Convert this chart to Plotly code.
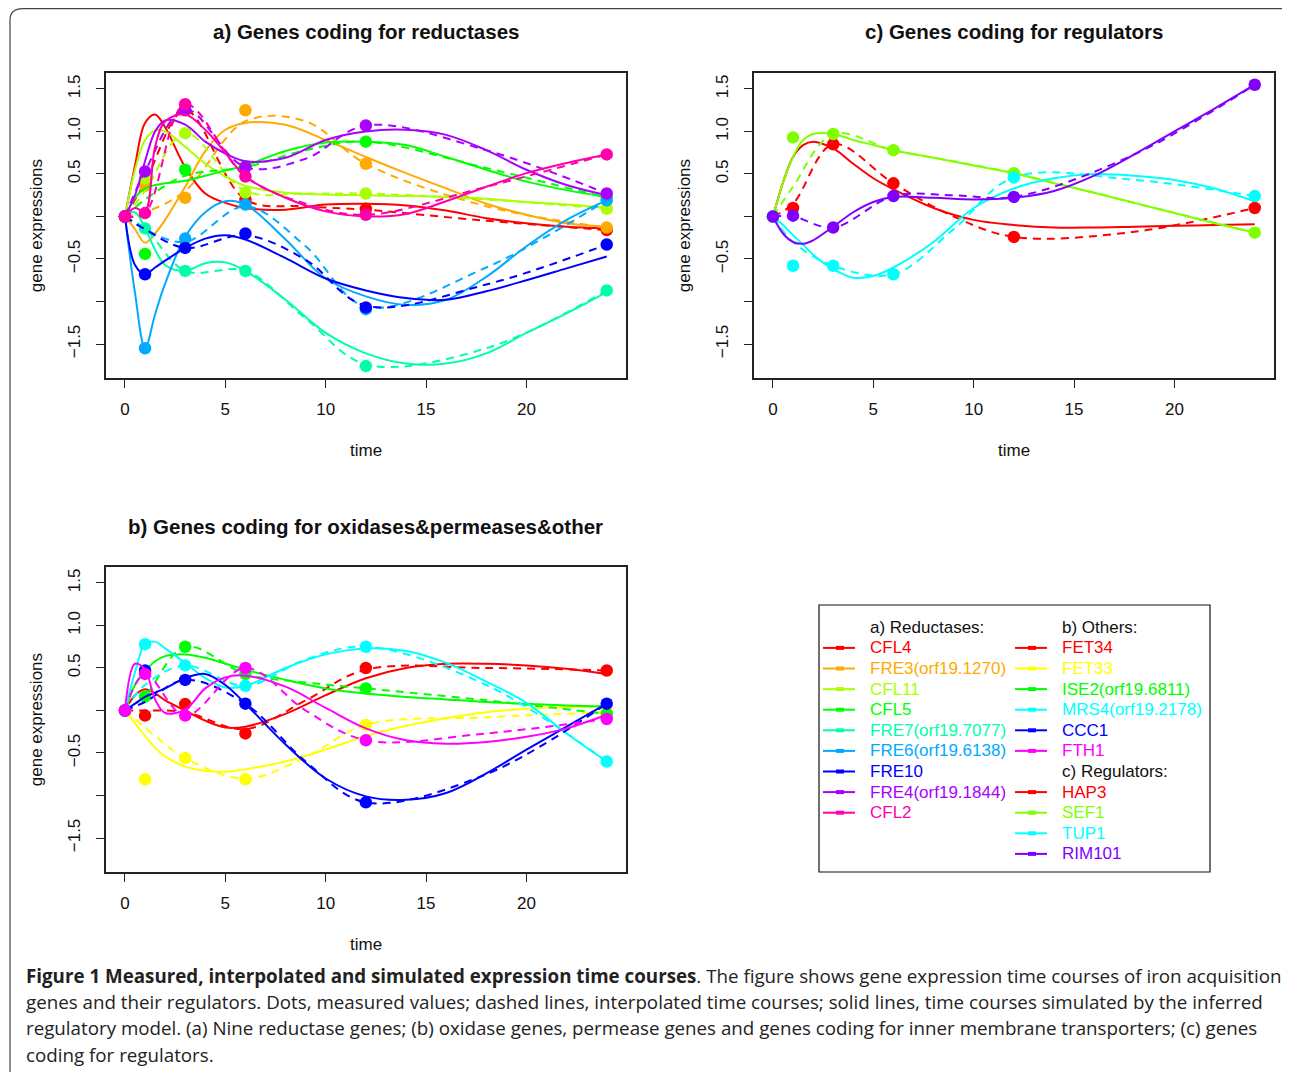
import plotly.graph_objects as go

# page has an 8px body margin; the figure is sized and shifted to compensate
OFF = 8
W, H = 1290 - OFF, 1072 - OFF

# ---------------- data ----------------
T_MEAS = [0, 1, 3, 6, 12, 24]
T_INT = [0, 1, 3, 6, 9, 12, 18, 24]
T_SIM = [0, 0.5, 1, 1.5, 2, 3, 4, 5, 6, 8, 10, 12, 14, 16, 18, 20, 22, 24]

X_TICKS = [0, 5, 10, 15, 20]
Y_TICKS = [-1.5, -1.0, -0.5, 0.0, 0.5, 1.0, 1.5]
Y_TICKTEXT = ["\u22121.5", "", "\u22120.5", "", "0.5", "1.0", "1.5"]

# a) reductases
A_GENES = ["CFL4", "FRE3(orf19.1270)", "CFL11", "CFL5", "FRE7(orf19.7077)",
           "FRE6(orf19.6138)", "FRE10", "FRE4(orf19.1844)", "CFL2"]
A_COLORS = ["#FF0000", "#FFAA00", "#AAFF00", "#00FF00", "#00FFAA",
            "#00AAFF", "#0000FF", "#AA00FF", "#FF00AA"]

CFL4_MEAS = [0, 0.40, 1.25, 0.20, 0.09, -0.16]
CFL4_INT = [0, 0.40, 1.25, 0.20, 0.12, 0.08, -0.05, -0.16]
CFL4_SIM = [0, 0.60, 1.10, 1.20, 1.05, 0.58, 0.27, 0.16, 0.10, 0.08, 0.14, 0.15, 0.13, 0.07, -0.02, -0.08, -0.12, -0.14]

FRE3_MEAS = [0, 0.36, 0.22, 1.25, 0.62, -0.13]
FRE3_INT = [0, 0.05, 0.30, 1.12, 1.12, 0.62, 0.12, -0.13]
FRE3_SIM = [0, -0.15, -0.31, -0.20, -0.04, 0.35, 0.77, 1.02, 1.10, 1.08, 0.90, 0.70, 0.51, 0.33, 0.15, 0.02, -0.08, -0.12]

CFL11_MEAS = [0, 0.45, 0.98, 0.28, 0.27, 0.09]
CFL11_INT = [0, 0.30, 0.98, 0.30, 0.27, 0.27, 0.20, 0.09]
CFL11_SIM = [0, 0.55, 0.90, 1.01, 1.00, 0.82, 0.62, 0.47, 0.36, 0.28, 0.26, 0.25, 0.24, 0.23, 0.21, 0.17, 0.14, 0.10]

CFL5_MEAS = [0, -0.44, 0.55, 0.59, 0.88, 0.22]
CFL5_INT = [0, 0.20, 0.48, 0.58, 0.78, 0.88, 0.57, 0.22]
CFL5_SIM = [0, 0.22, 0.33, 0.37, 0.39, 0.42, 0.48, 0.54, 0.60, 0.77, 0.87, 0.88, 0.84, 0.70, 0.55, 0.41, 0.31, 0.23]

FRE7_MEAS = [0, -0.14, -0.64, -0.64, -1.76, -0.87]
FRE7_INT = [0, -0.14, -0.64, -0.64, -1.20, -1.74, -1.55, -0.87]
FRE7_SIM = [0, 0.05, -0.14, -0.39, -0.57, -0.64, -0.55, -0.54, -0.64, -0.98, -1.37, -1.61, -1.73, -1.73, -1.61, -1.37, -1.14, -0.89]

FRE6_MEAS = [0, -1.55, -0.26, 0.14, -1.09, 0.19]
FRE6_INT = [0, -0.15, -0.30, 0.12, -0.35, -1.06, -0.60, 0.19]
FRE6_SIM = [0, -0.90, -1.55, -1.15, -0.79, -0.24, 0.05, 0.18, 0.14, -0.27, -0.73, -0.94, -1.04, -0.98, -0.71, -0.35, -0.04, 0.19]

FRE10_MEAS = [0, -0.68, -0.37, -0.20, -1.07, -0.33]
FRE10_INT = [0, -0.15, -0.37, -0.22, -0.51, -1.05, -0.80, -0.33]
FRE10_SIM = [0, -0.57, -0.68, -0.60, -0.52, -0.37, -0.26, -0.22, -0.27, -0.49, -0.73, -0.87, -0.96, -0.98, -0.88, -0.75, -0.61, -0.47]

FRE4_MEAS = [0, 0.53, 1.26, 0.58, 1.07, 0.27]
FRE4_INT = [0, 0.53, 1.26, 0.58, 0.68, 1.07, 0.78, 0.27]
FRE4_SIM = [0, 0.25, 0.65, 1.00, 1.13, 1.08, 0.88, 0.74, 0.65, 0.69, 0.90, 1.00, 1.02, 0.96, 0.78, 0.55, 0.37, 0.25]

CFL2_MEAS = [0, 0.04, 1.32, 0.47, 0.02, 0.73]
CFL2_INT = [0, 0.04, 1.32, 0.47, 0.15, 0.02, 0.35, 0.73]
CFL2_SIM = [0, 0.10, 0.06, 0.82, 1.12, 1.20, 1.02, 0.75, 0.47, 0.22, 0.06, 0.00, 0.03, 0.18, 0.35, 0.51, 0.63, 0.73]

# b) oxidases & permeases & other
B_GENES = ["FET34", "FET33", "ISE2(orf19.6811)", "MRS4(orf19.2178)", "CCC1", "FTH1"]
B_COLORS = ["#FF0000", "#FFFF00", "#00FF00", "#00FFFF", "#0000FF", "#FF00FF"]

FET34_MEAS = [0, -0.06, 0.075, -0.27, 0.50, 0.47]
FET34_INT = [0, 0.00, -0.02, -0.22, 0.12, 0.48, 0.50, 0.47]
FET34_SIM = [0, 0.18, 0.25, 0.20, 0.12, 0.00, -0.12, -0.20, -0.19, -0.04, 0.18, 0.38, 0.50, 0.55, 0.55, 0.53, 0.49, 0.43]

FET33_MEAS = [0, -0.81, -0.56, -0.81, -0.17, -0.02]
FET33_INT = [0, -0.20, -0.56, -0.80, -0.55, -0.17, -0.08, -0.02]
FET33_SIM = [0, -0.15, -0.30, -0.44, -0.54, -0.66, -0.71, -0.72, -0.69, -0.60, -0.46, -0.30, -0.18, -0.09, -0.02, 0.02, 0.04, 0.05]

ISE2_MEAS = [0, 0.165, 0.75, 0.43, 0.26, -0.04]
ISE2_INT = [0, 0.17, 0.75, 0.43, 0.33, 0.26, 0.12, -0.04]
ISE2_SIM = [0, 0.30, 0.46, 0.58, 0.64, 0.66, 0.62, 0.55, 0.48, 0.36, 0.26, 0.20, 0.16, 0.13, 0.10, 0.08, 0.06, 0.05]

MRS4_MEAS = [0, 0.78, 0.53, 0.29, 0.75, -0.60]
MRS4_INT = [0, 0.30, 0.53, 0.29, 0.60, 0.75, 0.30, -0.60]
MRS4_SIM = [0, 0.45, 0.78, 0.81, 0.73, 0.56, 0.38, 0.27, 0.29, 0.50, 0.66, 0.73, 0.70, 0.56, 0.34, 0.09, -0.27, -0.60]

CCC1_MEAS = [0, 0.47, 0.36, 0.08, -1.08, 0.08]
CCC1_INT = [0, 0.10, 0.36, 0.08, -0.60, -1.08, -0.75, 0.08]
CCC1_SIM = [0, 0.08, 0.16, 0.21, 0.26, 0.38, 0.43, 0.30, 0.08, -0.40, -0.80, -1.01, -1.05, -0.97, -0.74, -0.46, -0.19, 0.08]

FTH1_MEAS = [0, 0.43, -0.06, 0.50, -0.35, -0.10]
FTH1_INT = [0, 0.43, -0.06, 0.50, 0.00, -0.35, -0.27, -0.10]
FTH1_SIM = [0, 0.55, 0.48, 0.13, -0.03, 0.01, 0.26, 0.39, 0.41, 0.28, 0.03, -0.21, -0.35, -0.39, -0.37, -0.31, -0.21, -0.05]

# c) regulators
C_GENES = ["HAP3", "SEF1", "TUP1", "RIM101"]
C_COLORS = ["#FF0000", "#80FF00", "#00FFFF", "#8000FF"]

HAP3_MEAS = [0, 0.10, 0.85, 0.39, -0.24, 0.10]
HAP3_INT = [0, 0.15, 0.85, 0.39, 0.00, -0.24, -0.18, 0.10]
HAP3_SIM = [0, 0.40, 0.70, 0.84, 0.88, 0.80, 0.62, 0.45, 0.32, 0.10, -0.04, -0.10, -0.13, -0.13, -0.12, -0.11, -0.10, -0.09]

SEF1_MEAS = [0, 0.93, 0.97, 0.78, 0.51, -0.19]
SEF1_INT = [0, 0.35, 0.97, 0.78, 0.65, 0.51, 0.16, -0.19]
SEF1_SIM = [0, 0.40, 0.70, 0.90, 0.97, 0.97, 0.90, 0.84, 0.78, 0.69, 0.60, 0.51, 0.39, 0.28, 0.16, 0.04, -0.08, -0.19]

TUP1_MEAS = [0, -0.58, -0.58, -0.68, 0.46, 0.24]
TUP1_INT = [0, -0.30, -0.58, -0.68, -0.15, 0.46, 0.43, 0.24]
TUP1_SIM = [0, -0.10, -0.22, -0.33, -0.45, -0.62, -0.72, -0.70, -0.60, -0.30, 0.10, 0.33, 0.45, 0.50, 0.48, 0.43, 0.33, 0.18]

RIM101_MEAS = [0, 0.01, -0.13, 0.24, 0.23, 1.55]
RIM101_INT = [0, 0.00, -0.13, 0.24, 0.25, 0.23, 0.73, 1.55]
RIM101_SIM = [0, -0.20, -0.30, -0.32, -0.28, -0.12, 0.05, 0.17, 0.23, 0.22, 0.20, 0.22, 0.30, 0.48, 0.73, 1.00, 1.27, 1.55]

A_DATA = [(CFL4_MEAS, CFL4_INT, CFL4_SIM), (FRE3_MEAS, FRE3_INT, FRE3_SIM),
          (CFL11_MEAS, CFL11_INT, CFL11_SIM), (CFL5_MEAS, CFL5_INT, CFL5_SIM),
          (FRE7_MEAS, FRE7_INT, FRE7_SIM), (FRE6_MEAS, FRE6_INT, FRE6_SIM),
          (FRE10_MEAS, FRE10_INT, FRE10_SIM), (FRE4_MEAS, FRE4_INT, FRE4_SIM),
          (CFL2_MEAS, CFL2_INT, CFL2_SIM)]
B_DATA = [(FET34_MEAS, FET34_INT, FET34_SIM), (FET33_MEAS, FET33_INT, FET33_SIM),
          (ISE2_MEAS, ISE2_INT, ISE2_SIM), (MRS4_MEAS, MRS4_INT, MRS4_SIM),
          (CCC1_MEAS, CCC1_INT, CCC1_SIM), (FTH1_MEAS, FTH1_INT, FTH1_SIM)]
C_DATA = [(HAP3_MEAS, HAP3_INT, HAP3_SIM), (SEF1_MEAS, SEF1_INT, SEF1_SIM),
          (TUP1_MEAS, TUP1_INT, TUP1_SIM), (RIM101_MEAS, RIM101_INT, RIM101_SIM)]

TITLES = ["a) Genes coding for reductases", "c) Genes coding for regulators",
          "b) Genes coding for oxidases&permeases&other"]

CAPTION = [
    "<b>Figure 1 Measured, interpolated and simulated expression time courses</b>. The figure shows gene expression time courses of iron acquisition",
    "genes and their regulators. Dots, measured values; dashed lines, interpolated time courses; solid lines, time courses simulated by the inferred",
    "regulatory model. (a) Nine reductase genes; (b) oxidase genes, permease genes and genes coding for inner membrane transporters; (c) genes",
    "coding for regulators.",
]

# ---------------- layout helpers (page pixel -> paper) ----------------
def px(x):
    return (x - OFF) / W

def py(y):
    return 1 - (y - OFF) / H

FONT = "Liberation Sans, Arial, Helvetica, sans-serif"
CAP_FONT = "Open Sans, Lato, sans-serif"

fig = go.Figure()

panels = [
    ("x", "y", A_DATA, A_COLORS),
    ("x2", "y2", C_DATA, C_COLORS),
    ("x3", "y3", B_DATA, B_COLORS),
]

for xa, ya, data, colors in panels:
    for (meas, intp, sim), col in zip(data, colors):
        fig.add_trace(go.Scatter(x=T_MEAS, y=meas, mode="markers", xaxis=xa, yaxis=ya,
                                 marker=dict(color=col, size=12.5, line=dict(width=0)),
                                 showlegend=False, hoverinfo="skip"))
        fig.add_trace(go.Scatter(x=T_INT, y=intp, mode="lines", xaxis=xa, yaxis=ya,
                                 line=dict(color=col, width=2, dash="8px,6px",
                                           shape="spline", smoothing=1.0),
                                 showlegend=False, hoverinfo="skip"))
        fig.add_trace(go.Scatter(x=T_SIM, y=sim, mode="lines", xaxis=xa, yaxis=ya,
                                 line=dict(color=col, width=2, shape="spline", smoothing=1.0),
                                 showlegend=False, hoverinfo="skip"))

XR = [-0.96, 24.96]
YR = [-1.90, 1.688]

boxes = {
    "a": (105.7, 626.0, 73, 378),
    "c": (753.7, 1274.0, 73, 378),
    "b": (105.7, 626.0, 567, 872),
}

def xaxis(box):
    l, r, t, b = box
    return dict(domain=[px(l), px(r)], range=XR, tickvals=X_TICKS, ticks="outside",
                ticklen=8, tickwidth=1, tickcolor="#222", showline=True, mirror=True,
                linecolor="#222", linewidth=1.5, showgrid=False, zeroline=False,
                tickfont=dict(family=FONT, size=17, color="#111"), ticklabelstandoff=7)

def yaxis(box):
    l, r, t, b = box
    return dict(domain=[py(b), py(t)], range=YR, tickvals=Y_TICKS, ticktext=Y_TICKTEXT,
                ticks="outside", ticklen=8, tickwidth=1, tickcolor="#222", showline=True,
                mirror=True, linecolor="#222", linewidth=1.5, showgrid=False, zeroline=False,
                tickangle=-90, tickfont=dict(family=FONT, size=17, color="#111"),
                ticklabelstandoff=9)

fig.update_layout(
    width=W, height=H, margin=dict(l=0, r=0, t=0, b=0),
    paper_bgcolor="white", plot_bgcolor="white", showlegend=False,
    xaxis=dict(**xaxis(boxes["a"]), anchor="y"),
    yaxis=dict(**yaxis(boxes["a"]), anchor="x"),
    xaxis2=dict(**xaxis(boxes["c"]), anchor="y2"),
    yaxis2=dict(**yaxis(boxes["c"]), anchor="x2"),
    xaxis3=dict(**xaxis(boxes["b"]), anchor="y3"),
    yaxis3=dict(**yaxis(boxes["b"]), anchor="x3"),
)

ann = []
shapes = []

# titles and axis titles
for key, title in zip(["a", "c", "b"], TITLES):
    l, r, t, b = boxes[key]
    cx = (l + r) / 2
    ann.append(dict(text="<b>" + title + "</b>", x=px(cx), y=py(t - 41), xref="paper", yref="paper",
                    showarrow=False, xanchor="center", yanchor="middle",
                    font=dict(family=FONT, size=20.5, color="#111")))
    ann.append(dict(text="time", x=px(cx), y=py(b + 72), xref="paper", yref="paper",
                    showarrow=False, xanchor="center", yanchor="middle",
                    font=dict(family=FONT, size=17, color="#111")))
    ann.append(dict(text="gene expressions", x=px(l - 69), y=py((t + b) / 2), xref="paper",
                    yref="paper", showarrow=False, xanchor="center", yanchor="middle",
                    textangle=-90, font=dict(family=FONT, size=17, color="#111")))

# legend box
LX0, LX1, LY0, LY1 = 819, 1210, 605, 872
shapes.append(dict(type="rect", xref="paper", yref="paper", x0=px(LX0), x1=px(LX1),
                   y0=py(LY1), y1=py(LY0), line=dict(color="#111", width=1.2)))

ROW0, ROWH = 627.3, 20.6

def legend_item(col_x, text_x, row, name, color):
    yy = ROW0 + row * ROWH
    shapes.append(dict(type="line", xref="paper", yref="paper", x0=px(col_x), x1=px(col_x + 32),
                       y0=py(yy), y1=py(yy), line=dict(color=color, width=2)))
    shapes.append(dict(type="rect", xref="paper", yref="paper", x0=px(col_x + 13),
                       x1=px(col_x + 21), y0=py(yy + 2), y1=py(yy - 2),
                       line=dict(width=0), fillcolor=color))
    ann.append(dict(text=name, x=px(text_x), y=py(yy), xref="paper", yref="paper",
                    showarrow=False, xanchor="left", yanchor="middle",
                    font=dict(family=FONT, size=17, color=color)))

def legend_header(text_x, row, text):
    yy = ROW0 + row * ROWH
    ann.append(dict(text=text, x=px(text_x), y=py(yy), xref="paper", yref="paper",
                    showarrow=False, xanchor="left", yanchor="middle",
                    font=dict(family=FONT, size=17, color="#111")))

legend_header(868, 0, "a) Reductases:")
for i, (g, c) in enumerate(zip(A_GENES, A_COLORS)):
    legend_item(823, 868, i + 1, g, c)
legend_header(1060, 0, "b) Others:")
for i, (g, c) in enumerate(zip(B_GENES, B_COLORS)):
    legend_item(1015, 1060, i + 1, g, c)
legend_header(1060, 7, "c) Regulators:")
for i, (g, c) in enumerate(zip(C_GENES, C_COLORS)):
    legend_item(1015, 1060, i + 8, g, c)

# caption
for i, line in enumerate(CAPTION):
    ann.append(dict(text=line, x=px(24), y=py(975 + i * 26.4), xref="paper", yref="paper",
                    showarrow=False, xanchor="left", yanchor="middle",
                    font=dict(family=CAP_FONT, size=18.75, color="#222")))

# outer frame with rounded top-left corner
path = "M {x0},{y0} L {x0},{y1} Q {x0},{yc} {x2},{yc} L {x3},{yc} Q {x4},{yc} {x4},{y5}".format(
    x0=px(10), y0=py(1072), y1=py(20), yc=py(8.6), x2=px(23), x3=px(1284), x4=px(1289), y5=py(12))
shapes.append(dict(type="path", xref="paper", yref="paper", path=path,
                   line=dict(color="#444", width=1.2)))

fig.update_layout(annotations=ann, shapes=shapes)
fig.write_html("out.html")
